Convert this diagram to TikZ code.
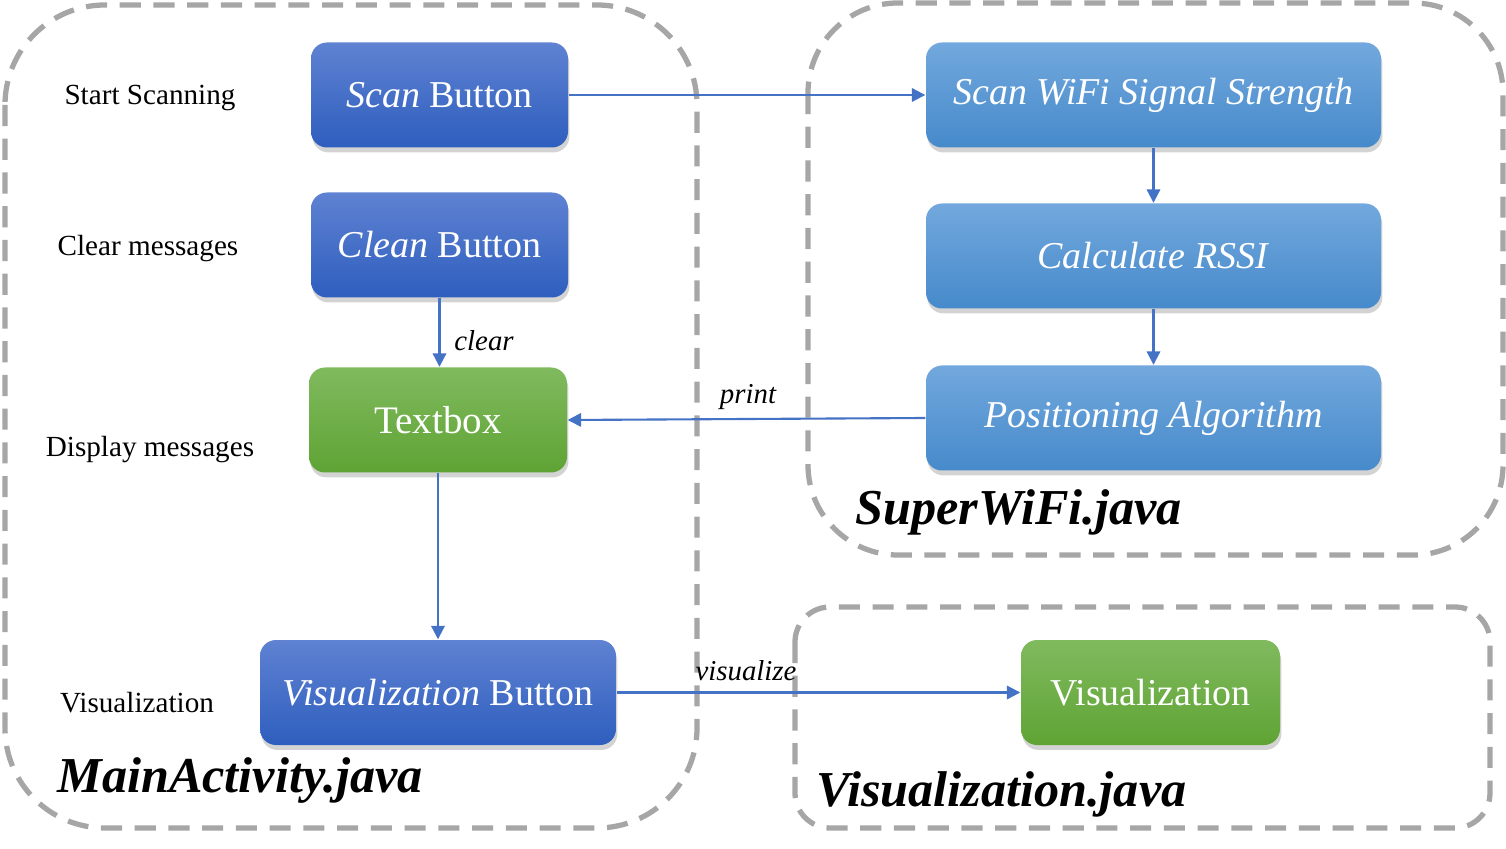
\documentclass[tikz,border=0pt]{standalone}
\usepackage{fontspec}
\setmainfont{Liberation Serif}
\usetikzlibrary{arrows.meta,shadows}

\definecolor{arrowblue}{HTML}{4472C4}
\definecolor{regiongray}{HTML}{A6A6A6}
\definecolor{darktop}{HTML}{5F82D2}
\definecolor{darkbot}{HTML}{2E5EBE}
\definecolor{lighttop}{HTML}{72A8DD}
\definecolor{lightbot}{HTML}{468ACB}
\definecolor{greentop}{HTML}{80BA5E}
\definecolor{greenbot}{HTML}{5FA334}

\tikzset{
  region/.style={draw=regiongray, line width=1.5pt, dash pattern=on 6pt off 3.6pt},
  btn/.style={rounded corners=0.16cm, text=white, inner sep=0pt,
    minimum height=1.05cm, font=\fontsize{10.8}{13}\selectfont,
    drop shadow={opacity=0.35, shadow xshift=0.4pt, shadow yshift=-1.4pt}},
  darkbtn/.style={btn, top color=darktop, bottom color=darkbot},
  lightbtn/.style={btn, top color=lighttop, bottom color=lightbot},
  greenbtn/.style={btn, top color=greentop, bottom color=greenbot},
  flow/.style={draw=arrowblue, line width=0.6pt, -{Triangle[width=3.8pt,length=3.8pt]}},
  sidelabel/.style={font=\fontsize{8.3}{10}\selectfont},
  flowlabel/.style={font=\fontsize{8.2}{10}\selectfont\itshape},
  filelabel/.style={font=\fontsize{14.3}{17}\selectfont\bfseries\itshape, anchor=west}
}

\begin{document}
\begin{tikzpicture}
\useasboundingbox (0,0) rectangle (15.06,-8.49);

% dashed regions
\draw[region, rounded corners=1cm] (0.05,-0.05) rectangle (6.97,-8.28);
\draw[region, rounded corners=0.9cm] (8.08,-0.03) rectangle (15.03,-5.55);
\draw[region, rounded corners=0.35cm] (7.95,-6.07) rectangle (14.90,-8.28);

% MainActivity.java
\node[darkbtn, minimum width=2.57cm] (scanbtn) at (4.395,-0.95) {\textit{Scan} Button};
\node[darkbtn, minimum width=2.57cm] (cleanbtn) at (4.395,-2.45) {\textit{Clean} Button};
\node[greenbtn, minimum width=2.58cm, font=\fontsize{11.1}{13}\selectfont] (textbox) at (4.38,-4.20) {Textbox};
\node[darkbtn, minimum width=3.56cm] (visbtn) at (4.38,-6.925) {\textit{Visualization} Button};

\node[sidelabel] (startlbl) at (1.50,-0.98) {Start Scanning};
\node[sidelabel] (clearlbl) at (1.48,-2.49) {Clear messages};
\node[sidelabel] (displbl) at (1.50,-4.50) {Display messages};
\node[sidelabel] (vislbl) at (1.37,-7.03) {Visualization};

% SuperWiFi.java
\node[lightbtn, minimum width=4.55cm] (scanwifi) at (11.535,-0.95) {\textit{Scan WiFi Signal Strength}};
\node[lightbtn, minimum width=4.55cm] (rssi) at (11.535,-2.56) {\textit{Calculate RSSI}};
\node[lightbtn, minimum width=4.55cm] (posalg) at (11.535,-4.18) {\textit{Positioning Algorithm}};

% Visualization.java
\node[greenbtn, minimum width=2.59cm] (visual) at (11.505,-6.925) {Visualization};

% file names
\node[filelabel] (mainfile) at (0.45,-7.80) {MainActivity.java};
\node[filelabel] (superfile) at (8.43,-5.12) {SuperWiFi.java};
\node[filelabel] (visfile) at (8.04,-7.94) {Visualization.java};

% connectors
\draw[flow] (scanbtn.east) -- (scanwifi.west);
\draw[flow] (scanwifi.south) -- (rssi.north);
\draw[flow] (rssi.south) -- (posalg.north);
\draw[flow] (posalg.west) -- (textbox.east);
\draw[flow] (cleanbtn.south) -- (textbox.north -| cleanbtn.south);
\draw[flow] (textbox.south) -- (visbtn.north);
\draw[flow] (visbtn.east) -- (visual.west);

\node[flowlabel] (clearflow) at (4.84,-3.41) {clear};
\node[flowlabel] (printflow) at (7.48,-3.97) {print};
\node[flowlabel] (visflow) at (7.46,-6.71) {visualize};

\end{tikzpicture}
\end{document}
